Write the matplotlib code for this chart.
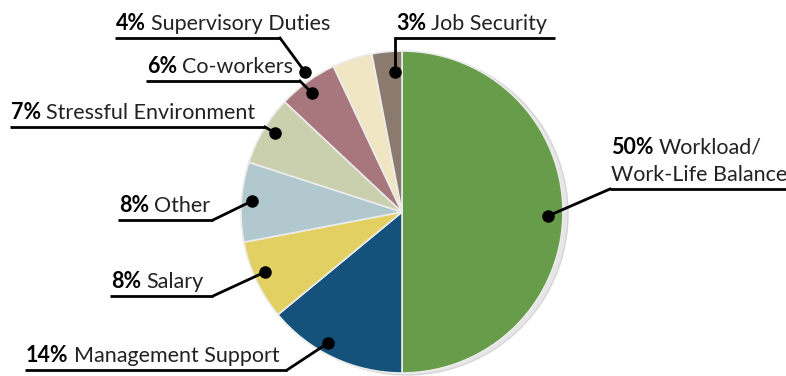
import matplotlib.pyplot as plt
from matplotlib.patches import Circle

categories = ["Workload/\nWork-Life Balance", "Management Support", "Salary", "Other",
              "Stressful Environment", "Co-workers", "Supervisory Duties", "Job Security"]
shares = [50, 14, 8, 8, 7, 6, 4, 3]
colors = ["#679c4b", "#14517b", "#e3d062", "#b2c8cf", "#cacfad", "#a8777e", "#f0e6c3", "#8b7b6f"]

# label underline (left x, y) and right end in pixels, plus dot position on the wedge
label_pos = [(610, 189), (25, 370), (110, 296), (118, 220), (10, 127), (146, 81), (115, 38), (395, 38)]
underline_end = [786, 287, 213, 213, 265, 300, 280, 555]
dot_pos = [(548, 216), (328, 343), (265, 272), (252, 201), (275, 133), (312, 93), (305, 72), (395, 72)]
leader_from_left = [True, False, False, False, False, False, False, True]

W, H = 786, 376
fig = plt.figure(figsize=(W / 100, H / 100), dpi=100)
ax = fig.add_axes([0, 0, 1, 1])

cx, cy, r = 402, H - 212, 161
ax.add_patch(Circle((cx + 5, cy - 2), r, facecolor="#e6e6e6", edgecolor="#d6d6d6", lw=1, zorder=1))
ax.pie(shares, colors=colors, startangle=90, counterclock=False, center=(cx, cy), radius=r,
       wedgeprops=dict(edgecolor="#ececec", linewidth=1.2, zorder=2), frame=True)
ax.set_xlim(0, W)
ax.set_ylim(0, H)
ax.set_aspect("equal")
ax.axis("off")

font = "Lato"
fs = 15.5
for name, v, (lx, ly), ex, (dx, dy), left in zip(categories, shares, label_pos, underline_end,
                                                  dot_pos, leader_from_left):
    y = H - ly
    ax.plot([lx, ex], [y, y], color="black", lw=2, zorder=3, solid_capstyle="butt")
    sx = lx if left else ex
    ax.plot([sx, dx], [y, H - dy], color="black", lw=2, zorder=3)
    ax.plot(dx, H - dy, "o", color="black", ms=8, zorder=4)
    lines = name.split("\n")
    tx, ty = lx + 1, y + 8
    for i, line in enumerate(reversed(lines)):
        yy = ty + i * 27
        if i == len(lines) - 1:
            t = ax.text(tx, yy, f"{v}%", fontsize=fs, fontweight="bold", family=font,
                        va="baseline", ha="left", zorder=5)
            fig.canvas.draw()
            bb = t.get_window_extent()
            ax.text(bb.x1 + 5, yy, line, fontsize=fs, family=font, va="baseline", ha="left",
                    color="#222222", zorder=5)
        else:
            ax.text(tx, yy, line, fontsize=fs, family=font, va="baseline", ha="left",
                    color="#222222", zorder=5)

fig.savefig("out.png", dpi=100)
